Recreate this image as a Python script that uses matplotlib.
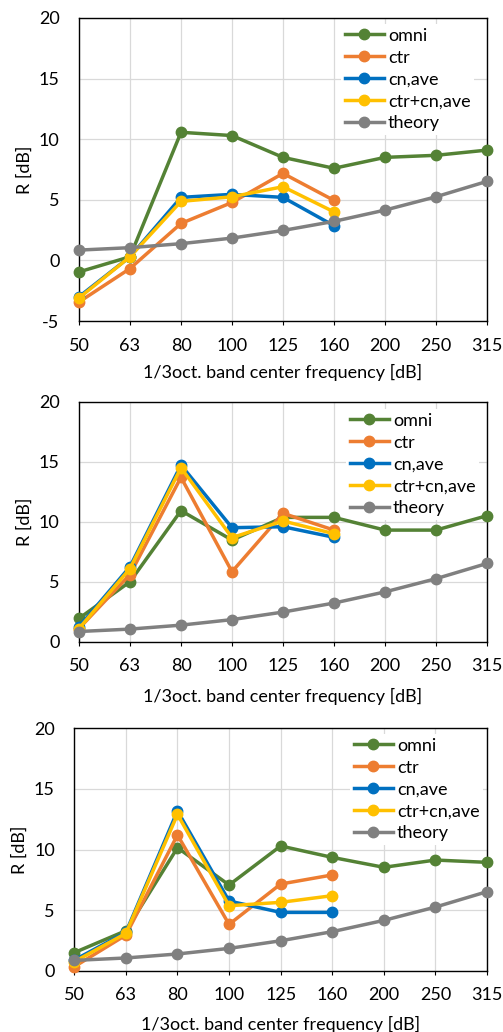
import matplotlib
matplotlib.use("Agg")
import matplotlib.pyplot as plt

plt.rcParams['font.family'] = ['Lato', 'DejaVu Sans']
plt.rcParams['axes.unicode_minus'] = False

# -----------------------------
# Daten
# -----------------------------
freqs = ["50", "63", "80", "100", "125", "160", "200", "250", "315"]
series_names = ["omni", "ctr", "cn,ave", "ctr+cn,ave", "theory"]
colors = ["#548235", "#ED7D31", "#0070C0", "#FFC000", "#808080"]

theory = [0.85, 1.05, 1.38, 1.84, 2.47, 3.22, 4.15, 5.25, 6.52]

# Panel 1
omni_1 = [-0.95, 0.3, 10.57, 10.3, 8.5, 7.6, 8.5, 8.67, 9.1]
ctr_1 = [-3.43, -0.67, 3.05, 4.78, 7.18, 4.95]
cnave_1 = [-3.0, 0.3, 5.2, 5.45, 5.2, 2.86]
ctrcn_1 = [-3.1, 0.3, 4.87, 5.25, 6.08, 4.0]

# Panel 2
omni_2 = [1.94, 5.0, 10.92, 8.47, 10.36, 10.36, 9.3, 9.3, 10.5]
ctr_2 = [1.1, 5.6, 13.7, 5.83, 10.7, 9.3]
cnave_2 = [1.25, 6.25, 14.72, 9.5, 9.58, 8.7]
ctrcn_2 = [1.1, 6.1, 14.5, 8.67, 10.06, 9.0]

# Panel 3
omni_3 = [1.49, 3.3, 10.15, 7.07, 10.29, 9.35, 8.53, 9.13, 8.94]
ctr_3 = [0.33, 2.94, 11.2, 3.82, 7.15, 7.9]
cnave_3 = [0.88, 3.16, 13.18, 5.75, 4.81, 4.81]
ctrcn_3 = [0.74, 3.08, 12.9, 5.36, 5.64, 6.19]

panels = [
    ([omni_1, ctr_1, cnave_1, ctrcn_1, theory], (-5, 20)),
    ([omni_2, ctr_2, cnave_2, ctrcn_2, theory], (0, 20)),
    ([omni_3, ctr_3, cnave_3, ctrcn_3, theory], (0, 20)),
]

# Achsenpositionen in Pixeln (links, oben, rechts, unten)
W, H = 503, 1032
boxes = [
    (79, 18, 487, 321),
    (79, 401.7, 487, 641.7),
    (74.3, 728.3, 487, 970.7),
]
legend_anchor = [
    (341, 24),
    (346, 409),
    (350, 734),
]
xlabel_top = [364, 688, 1016]
ylabel_x = [25, 25, 20]
FS = 13

fig = plt.figure(figsize=(W / 100, H / 100), dpi=100)

for (data, ylim), (l, t, r, b), (lx, ly), xl, yl in zip(
        panels, boxes, legend_anchor, xlabel_top, ylabel_x):
    ax = fig.add_axes([l / W, 1 - b / H, (r - l) / W, (b - t) / H])
    pw, ph = r - l, b - t

    for i, (name, vals, col) in enumerate(zip(series_names, data, colors)):
        x = list(range(len(vals)))
        ax.plot(x, vals, color=col, lw=2.5, marker="o", markersize=7.5,
                label=name, clip_on=False, zorder=3 + i)

    ax.set_xlim(0, len(freqs) - 1)
    ax.set_ylim(*ylim)
    ax.set_xticks(range(len(freqs)))
    ax.set_xticklabels(freqs)
    ax.set_yticks(range(ylim[0], ylim[1] + 1, 5))
    ax.grid(True, color="#D9D9D9", lw=0.9, zorder=0)
    ax.set_axisbelow(True)
    for s in ax.spines.values():
        s.set_color("black")
        s.set_linewidth(1.0)
    ax.tick_params(axis="x", length=3, width=0.8, pad=9, labelsize=FS)
    ax.tick_params(axis="y", length=0, pad=14, labelsize=FS)

    ax.set_xlabel("1/3oct. band center frequency [dB]", fontsize=FS)
    ax.xaxis.set_label_coords(0.5, (b - xl) / ph)
    ax.set_ylabel("R [dB]", fontsize=FS, va="center")
    ax.yaxis.set_label_coords((yl - l) / pw, 0.5)

    leg = ax.legend(loc="upper left",
                    bbox_to_anchor=((lx - l) / pw, 1 - (ly - t) / ph),
                    fontsize=FS, frameon=True, fancybox=False,
                    facecolor="white", edgecolor="none", framealpha=1,
                    handlelength=2.2, handletextpad=0.2, labelspacing=0.33,
                    borderpad=0.2, borderaxespad=0)
    leg.set_zorder(2)

fig.savefig("out.png", dpi=100)
